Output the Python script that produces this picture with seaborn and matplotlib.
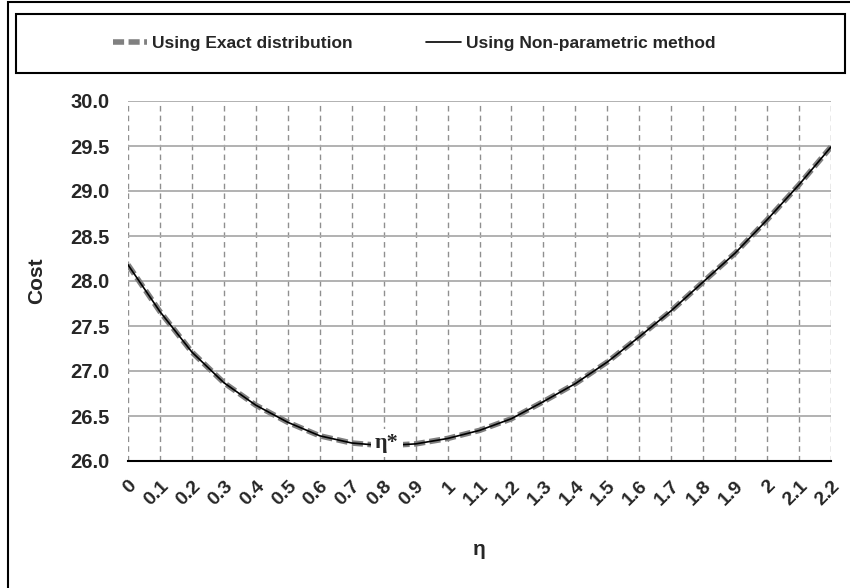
import matplotlib
matplotlib.use("Agg")
import matplotlib.pyplot as plt
from matplotlib.patches import Rectangle
from matplotlib.font_manager import FontProperties
import pandas as pd
import seaborn as sns

# Cost as a function of the control parameter eta
eta = [0.0, 0.1, 0.2, 0.3, 0.4, 0.5, 0.6, 0.7, 0.8, 0.9, 1.0,
       1.1, 1.2, 1.3, 1.4, 1.5, 1.6, 1.7, 1.8, 1.9, 2.0, 2.1, 2.2]
cost_exact = [28.18, 27.66, 27.21, 26.87, 26.62, 26.43, 26.28, 26.20, 26.17,
              26.19, 26.25, 26.34, 26.47, 26.66, 26.86, 27.10, 27.38, 27.67,
              27.99, 28.31, 28.68, 29.07, 29.49]
cost_nonparametric = [28.18, 27.66, 27.21, 26.87, 26.62, 26.43, 26.28, 26.20,
                      26.17, 26.19, 26.25, 26.34, 26.47, 26.66, 26.86, 27.10,
                      27.38, 27.67, 27.99, 28.31, 28.68, 29.07, 29.49]
eta_tick_labels = ["0", "0.1", "0.2", "0.3", "0.4", "0.5", "0.6", "0.7",
                   "0.8", "0.9", "1", "1.1", "1.2", "1.3", "1.4", "1.5",
                   "1.6", "1.7", "1.8", "1.9", "2", "2.1", "2.2"]
cost_ticks = [26.0, 26.5, 27.0, 27.5, 28.0, 28.5, 29.0, 29.5, 30.0]
series_labels = ["Using Exact distribution", "Using Non-parametric method"]
optimum_eta, optimum_cost = 0.81, 26.2

sns.set_style("white")
plt.rcParams["font.family"] = ["Liberation Sans", "DejaVu Sans"]

W, H = 850, 588
fig = plt.figure(figsize=(W / 100, H / 100), dpi=100)
ax = fig.add_axes([128 / W, 1 - 461 / H, 703 / W, 360 / H])

df = pd.DataFrame({"eta": eta, "exact": cost_exact,
                   "nonparametric": cost_nonparametric})

sns.lineplot(data=df, x="eta", y="exact", ax=ax, color="#808080", lw=4,
             linestyle=(0, (2.0, 0.8)), label=series_labels[0], zorder=3)
sns.lineplot(data=df, x="eta", y="nonparametric", ax=ax, color="black",
             lw=1.2, label=series_labels[1], zorder=4)

ax.set_xlim(0, 2.2)
ax.set_ylim(26, 30)
ax.set_xticks(eta)
ax.set_xticklabels(eta_tick_labels, rotation=45, ha="right",
                   rotation_mode="anchor", fontweight="bold", fontsize=14)
ax.set_yticks(cost_ticks)
ax.set_yticklabels([f"{v:.1f}" for v in cost_ticks], fontweight="bold",
                   fontsize=14.5)

ax.yaxis.grid(True, color="#ababab", lw=1.3, ls="-")
ax.xaxis.grid(True, color="#8f8f8f", lw=1.0, ls=(0, (4, 3)))
ax.set_axisbelow(True)
for side in ("top", "right", "left"):
    ax.spines[side].set_visible(False)
ax.spines["bottom"].set_color("black")
ax.spines["bottom"].set_linewidth(1.5)
ax.spines["bottom"].set_zorder(7)

ax.tick_params(axis="x", length=6, width=1.5, color="black",
               direction="out", pad=6)
ax.tick_params(axis="y", length=0, pad=13)

ax.set_xlabel("η", fontweight="bold", fontsize=15)
ax.set_ylabel("Cost", fontweight="bold", fontsize=15)
ax.xaxis.set_label_coords(0.5, -0.22)
ax.yaxis.set_label_coords(-0.117, 0.5)

# optimum label, masking the curve behind it
ax.text(optimum_eta, optimum_cost, "η*", ha="center", va="center",
        fontsize=16, fontweight="bold",
        family=["Liberation Serif", "DejaVu Serif"],
        bbox=dict(facecolor="white", edgecolor="none",
                  boxstyle="square,pad=0.2"), zorder=6)

handles, labels = ax.get_legend_handles_labels()
ax.get_legend().remove()

# outer frame and legend box
fig.patches.append(Rectangle((8 / W, -0.1), 1.2, 1.1 - 1.5 / H, fill=False,
                             edgecolor="black", lw=1.5,
                             transform=fig.transFigure, figure=fig))
fig.patches.append(Rectangle((16 / W, 1 - 73 / H), (845 - 16) / W, 59 / H,
                             fill=False, edgecolor="black", lw=1.5,
                             transform=fig.transFigure, figure=fig))

legend_font = FontProperties(family=["Liberation Sans Narrow", "Liberation Sans"],
                             weight="bold", size=12.5)
fig.legend(handles, labels, loc="center", bbox_to_anchor=(414 / W, 1 - 43 / H),
           ncol=2, frameon=False, prop=legend_font, handlelength=2.0,
           columnspacing=4.2, handletextpad=0.3)

fig.savefig("out.png", dpi=100)
